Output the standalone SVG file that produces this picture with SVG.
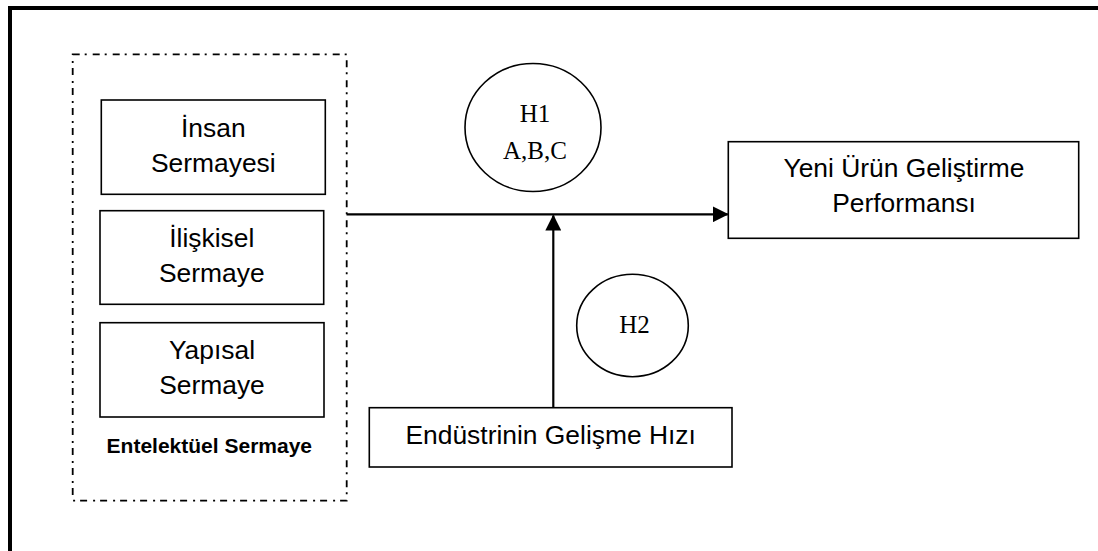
<svg xmlns="http://www.w3.org/2000/svg" width="1098" height="551" viewBox="0 0 1098 551">
  <style>
    .box { fill: #ffffff; stroke: #000000; stroke-width: 1.6; }
    .group { fill: none; stroke: #000000; stroke-width: 1.8; stroke-dasharray: 7 5 2 6; }
    .frame { fill: none; stroke: #000000; stroke-width: 4; }
    .hyp { fill: #ffffff; stroke: #000000; stroke-width: 1.6; }
    .lbl { font-family: "Liberation Sans", Arial, sans-serif; font-size: 26.4px; fill: #000000; text-anchor: middle; }
    .title { font-family: "Liberation Sans", Arial, sans-serif; font-size: 21px; font-weight: bold; fill: #000000; text-anchor: middle; }
    .h { font-family: "Liberation Serif", "Times New Roman", serif; font-size: 25px; fill: #000000; text-anchor: middle; }
    .link { fill: none; stroke: #000000; stroke-width: 2.2; }
  </style>
  <defs>
    <marker id="arrow" markerUnits="userSpaceOnUse" markerWidth="16" markerHeight="16" viewBox="0 0 16 16" refX="15" refY="8" orient="auto">
      <path d="M0,0 L16,8 L0,16 Z" fill="#000000"/>
    </marker>
  </defs>

  <rect width="1098" height="551" fill="#ffffff"/>

  <!-- outer frame (top and left edges) -->
  <path class="frame" d="M10,560 V8 H1105"/>

  <!-- intellectual capital group -->
  <g id="entelektuel-sermaye">
    <rect class="group" x="72.7" y="54.3" width="274" height="446.4"/>
    <text class="title" x="209.3" y="452.7">Entelektüel Sermaye</text>
  </g>

  <g id="insan-sermayesi">
    <rect class="box" x="101.3" y="100" width="224" height="94.3"/>
    <text class="lbl" x="213.3" y="136.7">İnsan</text>
    <text class="lbl" x="213.3" y="171.7">Sermayesi</text>
  </g>

  <g id="iliskisel-sermaye">
    <rect class="box" x="100" y="210.7" width="223.7" height="93.6"/>
    <text class="lbl" x="211.8" y="246.7">İlişkisel</text>
    <text class="lbl" x="211.8" y="281.5">Sermaye</text>
  </g>

  <g id="yapisal-sermaye">
    <rect class="box" x="100" y="322.7" width="224" height="94.3"/>
    <text class="lbl" x="212" y="359">Yapısal</text>
    <text class="lbl" x="212" y="394">Sermaye</text>
  </g>

  <g id="yeni-urun">
    <rect class="box" x="728.3" y="141.7" width="350.4" height="96.6"/>
    <text class="lbl" x="904" y="176.7">Yeni Ürün Geliştirme</text>
    <text class="lbl" x="904" y="212.3">Performansı</text>
  </g>

  <g id="endustri">
    <rect class="box" x="369.3" y="407.7" width="362.7" height="59.3"/>
    <text class="lbl" x="550.7" y="444">Endüstrinin Gelişme Hızı</text>
  </g>

  <!-- connectors -->
  <g id="connectors">
    <line class="link" x1="346.5" y1="214.3" x2="727.7" y2="214.3" marker-end="url(#arrow)"/>
    <line class="link" x1="553.3" y1="407" x2="553.3" y2="215.5" marker-end="url(#arrow)"/>
  </g>

  <g id="h1">
    <ellipse class="hyp" cx="533" cy="127.5" rx="68" ry="64"/>
    <text class="h" x="535" y="122.3">H1</text>
    <text class="h" x="535" y="158.7">A,B,C</text>
  </g>

  <g id="h2">
    <ellipse class="hyp" cx="632.5" cy="325.5" rx="55.8" ry="51.2"/>
    <text class="h" x="634.5" y="333.3">H2</text>
  </g>
</svg>
